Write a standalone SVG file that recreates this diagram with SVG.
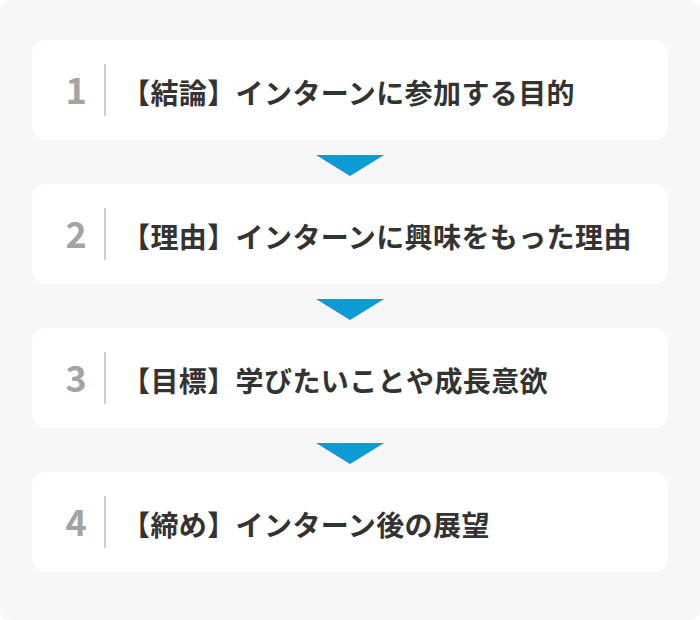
<svg xmlns="http://www.w3.org/2000/svg" width="700" height="620" viewBox="0 0 700 620">
<style>
.box{fill:#ffffff}
.num{font-family:"Noto Sans CJK JP","Noto Sans",sans-serif;font-weight:700;font-size:36px;fill:#a3a3a3;text-anchor:middle}
.lbl{font-family:"Noto Sans CJK JP",sans-serif;font-weight:700;font-size:28px;letter-spacing:0.4px;fill:#333333}
.div{stroke:#cccccc;stroke-width:2}
.arr{fill:#0e9bd4}
</style>
<rect x="0" y="0" width="700" height="620" rx="10" fill="#f7f7f7"/>
<g id="connectors">
<polygon class="arr" points="316,155 384,155 350,176"/>
<polygon class="arr" points="316,299 384,299 350,320"/>
<polygon class="arr" points="316,443 384,443 350,464"/>
</g>
<g id="step1">
<rect class="box" x="32" y="40" width="636" height="100" rx="14"/>
<text class="num" x="76" y="104">1</text>
<line class="div" x1="105" y1="64" x2="105" y2="116"/>
<text class="lbl" x="122" y="104">【結論】インターンに参加する目的</text>
</g>
<g id="step2">
<rect class="box" x="32" y="184" width="636" height="100" rx="14"/>
<text class="num" x="76" y="248">2</text>
<line class="div" x1="105" y1="208" x2="105" y2="260"/>
<text class="lbl" x="122" y="248">【理由】インターンに興味をもった理由</text>
</g>
<g id="step3">
<rect class="box" x="32" y="328" width="636" height="100" rx="14"/>
<text class="num" x="76" y="392">3</text>
<line class="div" x1="105" y1="352" x2="105" y2="404"/>
<text class="lbl" x="122" y="392">【目標】学びたいことや成長意欲</text>
</g>
<g id="step4">
<rect class="box" x="32" y="472" width="636" height="100" rx="14"/>
<text class="num" x="76" y="536">4</text>
<line class="div" x1="105" y1="496" x2="105" y2="548"/>
<text class="lbl" x="122" y="536">【締め】インターン後の展望</text>
</g>
</svg>
